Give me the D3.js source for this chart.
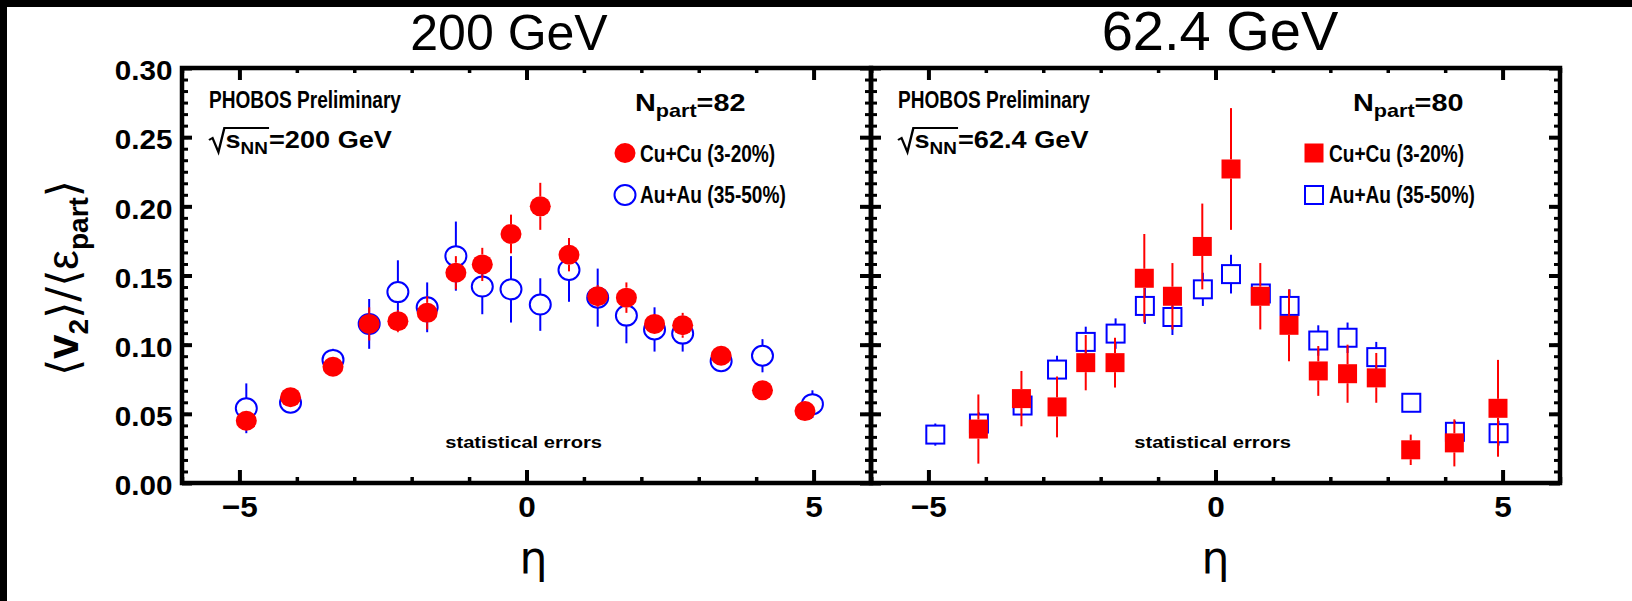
<!DOCTYPE html>
<html>
<head>
<meta charset="utf-8">
<script src="https://cdn.jsdelivr.net/npm/d3@7"></script>
<style>
  body { margin: 0; background: #fff; }
  svg { display: block; }
  text { font-family: "Liberation Sans", Arial, sans-serif; fill: #000; }
</style>
</head>
<body>
<div id="chart"></div>
<script>
// Cu+Cu 3-20%, 200 GeV (filled circles)
const etaCu200 = [-4.88, -4.11, -3.37, -2.74, -2.24, -1.73, -1.23, -0.77, -0.27, 0.24, 0.74, 1.24, 1.74, 2.23, 2.72, 3.39, 4.11, 4.85];
const v2Cu200 = [0.045, 0.062, 0.084, 0.115, 0.117, 0.123, 0.152, 0.158, 0.180, 0.200, 0.165, 0.135, 0.134, 0.115, 0.114, 0.092, 0.067, 0.052];
const errCu200 = [0.006, 0.004, 0.004, 0.012, 0.008, 0.012, 0.012, 0.012, 0.014, 0.017, 0.012, 0.008, 0.011, 0.007, 0.009, 0.005, 0.006, 0.006];

// Au+Au 35-50%, 200 GeV (open circles)
const etaAu200 = [-4.88, -4.11, -3.37, -2.74, -2.24, -1.73, -1.23, -0.77, -0.27, 0.24, 0.74, 1.24, 1.74, 2.23, 2.72, 3.39, 4.11, 4.98];
const v2Au200 = [0.054, 0.058, 0.089, 0.115, 0.138, 0.127, 0.164, 0.142, 0.140, 0.129, 0.154, 0.134, 0.121, 0.111, 0.108, 0.088, 0.092, 0.057];
const errAu200 = [0.018, 0.005, 0.008, 0.018, 0.023, 0.018, 0.025, 0.020, 0.024, 0.019, 0.023, 0.021, 0.020, 0.016, 0.013, 0.006, 0.012, 0.010];

// Cu+Cu 3-20%, 62.4 GeV (filled squares)
const etaCu62 = [-4.13, -3.38, -2.76, -2.26, -1.75, -1.24, -0.75, -0.23, 0.27, 0.78, 1.28, 1.79, 2.30, 2.80, 3.40, 4.16, 4.92];
const v2Cu62 = [0.039, 0.061, 0.055, 0.087, 0.087, 0.148, 0.135, 0.171, 0.227, 0.135, 0.114, 0.081, 0.079, 0.076, 0.024, 0.029, 0.054];
const errCu62 = [0.025, 0.020, 0.022, 0.020, 0.018, 0.032, 0.024, 0.031, 0.044, 0.024, 0.026, 0.018, 0.021, 0.018, 0.011, 0.017, 0.035];

// Au+Au 35-50%, 62.4 GeV (open squares)
const etaAu62 = [-4.88, -4.12, -3.36, -2.76, -2.26, -1.74, -1.23, -0.75, -0.22, 0.27, 0.79, 1.29, 1.79, 2.30, 2.80, 3.41, 4.17, 4.93];
const v2Au62 = [0.035, 0.043, 0.056, 0.082, 0.102, 0.108, 0.128, 0.120, 0.140, 0.151, 0.137, 0.128, 0.103, 0.105, 0.091, 0.058, 0.037, 0.036];
const errAu62 = [0.008, 0.008, 0.007, 0.010, 0.011, 0.011, 0.013, 0.013, 0.012, 0.014, 0.007, 0.012, 0.011, 0.011, 0.011, 0.003, 0.008, 0.009];

// ticks and labels
const xMajorTicks = [-5, 0, 5];
const xMinorTicks = [-6, -4, -3, -2, -1, 1, 2, 3, 4, 6];
const yMajorTicks = [0, 0.05, 0.10, 0.15, 0.20, 0.25, 0.30];
const panelTitles = ["200 GeV", "62.4 GeV"];
const energyLabels = ["=200 GeV", "=62.4 GeV"];
const nPartValues = [82, 80];
const legendLabels = ["Cu+Cu (3-20%)", "Au+Au (35-50%)"];

const W = 1632, H = 601;

const svg = d3.select("#chart").append("svg")
    .attr("width", W)
    .attr("height", H);

svg.append("rect").attr("width", W).attr("height", H).attr("fill", "#fff");
// black edges of the screenshot
svg.append("rect").attr("x", 0).attr("y", 0).attr("width", W).attr("height", 7).attr("fill", "#000");
svg.append("rect").attr("x", 0).attr("y", 0).attr("width", 7).attr("height", H).attr("fill", "#000");

const panels = [
    { x0: 182, x1: 871, marker: "circle", titleX: 509, titleSize: 50, nPartX: 635, etaShift: 7,
      cu: { eta: etaCu200, v: v2Cu200, err: errCu200 },
      au: { eta: etaAu200, v: v2Au200, err: errAu200 } },
    { x0: 871, x1: 1560, marker: "square", titleX: 1220, titleSize: 56, nPartX: 1353, etaShift: 0,
      cu: { eta: etaCu62, v: v2Cu62, err: errCu62 },
      au: { eta: etaAu62, v: v2Au62, err: errAu62 } }
];

const y = d3.scaleLinear().domain([0, 0.30]).range([483, 68]);
const yMinorTicks = d3.range(0, 0.3001, 0.05 / 6);

// bold text, squeezed or stretched sideways
function stretched(g, x, yy, size, sx, anchor) {
    return g.append("text")
        .attr("transform", `translate(${x},${yy}) scale(${sx},1)`)
        .attr("text-anchor", anchor || "start")
        .style("font-size", size + "px")
        .style("font-weight", "bold");
}

function drawMarker(g, kind, cx, cy, filled, color) {
    if (kind === "circle") {
        g.append("ellipse")
            .attr("cx", cx).attr("cy", cy)
            .attr("rx", 10.5).attr("ry", 10)
            .attr("fill", filled ? color : "none")
            .attr("stroke", color)
            .attr("stroke-width", filled ? 0 : 2);
    } else {
        const s = filled ? 19 : 18;
        g.append("rect")
            .attr("x", cx - s / 2).attr("y", cy - s / 2)
            .attr("width", s).attr("height", s)
            .attr("fill", filled ? color : "none")
            .attr("stroke", color)
            .attr("stroke-width", filled ? 0 : 2);
    }
}

function drawSeries(g, x, kind, series, filled, color) {
    const pts = series.eta.map((e, i) => ({ eta: e, v: series.v[i], err: series.err[i] }));
    const half = kind === "circle" ? 10 : 9.5;
    pts.forEach(d => {
        const cx = x(d.eta), cy = y(d.v);
        const top = y(d.v + d.err), bot = y(d.v - d.err);
        if (cy - half > top) {
            g.append("line").attr("x1", cx).attr("x2", cx).attr("y1", top).attr("y2", cy - half)
                .attr("stroke", color).attr("stroke-width", 2);
        }
        if (bot > cy + half) {
            g.append("line").attr("x1", cx).attr("x2", cx).attr("y1", cy + half).attr("y2", bot)
                .attr("stroke", color).attr("stroke-width", 2);
        }
        drawMarker(g, kind, cx, cy, filled, color);
    });
}

function styleAxis(sel, width) {
    sel.select(".domain").remove();
    sel.selectAll(".tick line").attr("stroke", "#000").attr("stroke-width", width);
}

panels.forEach((p, idx) => {
    const x = d3.scaleLinear().domain([-6, 6]).range([p.x0, p.x1]);
    const g = svg.append("g");

    // data: Au+Au first, Cu+Cu drawn on top
    drawSeries(g, x, p.marker, p.au, false, "#0000ff");
    drawSeries(g, x, p.marker, p.cu, true, "#ff0000");

    // bottom axis
    const bottomMajor = g.append("g").attr("transform", `translate(0,${y(0)})`)
        .call(d3.axisBottom(x).tickValues(xMajorTicks).tickSize(-13).tickPadding(13).tickFormat(d3.format("d")));
    styleAxis(bottomMajor, 4);
    bottomMajor.selectAll(".tick text")
        .attr("transform", "scale(1.05,1)")
        .style("font-size", "30px").style("font-weight", "bold")
        .style("font-family", "'Liberation Sans', Arial, sans-serif");
    const bottomMinor = g.append("g").attr("transform", `translate(0,${y(0)})`)
        .call(d3.axisBottom(x).tickValues(xMinorTicks).tickSize(-6).tickFormat(""));
    styleAxis(bottomMinor, 3.5);

    // top axis
    const topMajor = g.append("g").attr("transform", `translate(0,${y(0.30)})`)
        .call(d3.axisTop(x).tickValues(xMajorTicks).tickSize(-12).tickFormat(""));
    styleAxis(topMajor, 4);
    const topMinor = g.append("g").attr("transform", `translate(0,${y(0.30)})`)
        .call(d3.axisTop(x).tickValues(xMinorTicks).tickSize(-5).tickFormat(""));
    styleAxis(topMinor, 3.5);

    // left axis
    const leftMajor = g.append("g").attr("transform", `translate(${p.x0},0)`)
        .call(d3.axisLeft(y).tickValues(yMajorTicks).tickSize(-10).tickPadding(9)
            .tickFormat(idx === 0 ? d3.format(".2f") : ""));
    styleAxis(leftMajor, 4);
    leftMajor.selectAll(".tick text")
        .attr("dy", "0.42em")
        .attr("transform", "scale(1.06,1)")
        .style("font-size", "28px").style("font-weight", "bold")
        .style("font-family", "'Liberation Sans', Arial, sans-serif");
    const leftMinor = g.append("g").attr("transform", `translate(${p.x0},0)`)
        .call(d3.axisLeft(y).tickValues(yMinorTicks).tickSize(-6).tickFormat(""));
    styleAxis(leftMinor, 3);

    // right axis
    const rightMajor = g.append("g").attr("transform", `translate(${p.x1},0)`)
        .call(d3.axisRight(y).tickValues(yMajorTicks).tickSize(-11).tickFormat(""));
    styleAxis(rightMajor, 4);
    const rightMinor = g.append("g").attr("transform", `translate(${p.x1},0)`)
        .call(d3.axisRight(y).tickValues(yMinorTicks).tickSize(-6).tickFormat(""));
    styleAxis(rightMinor, 3);

    // frame
    g.append("rect")
        .attr("x", p.x0).attr("y", y(0.30))
        .attr("width", p.x1 - p.x0).attr("height", y(0) - y(0.30))
        .attr("fill", "none").attr("stroke", "#000").attr("stroke-width", 4.5);

    // panel title above the frame
    svg.append("text")
        .attr("x", p.titleX).attr("y", 50)
        .attr("text-anchor", "middle")
        .style("font-size", p.titleSize + "px")
        .text(panelTitles[idx]);

    // eta axis label
    svg.append("text")
        .attr("x", x(0) + p.etaShift).attr("y", 573)
        .attr("text-anchor", "middle")
        .style("font-size", "44px")
        .style("font-family", "'DejaVu Sans', sans-serif")
        .text("η");

    // PHOBOS label
    stretched(g, p.x0 + 27, 108, 23, 0.83).text("PHOBOS Preliminary");

    // sqrt(s_NN) label
    const sq = g.append("g").attr("transform", `translate(${p.x0 + 27},148) scale(1.18,1)`);
    const sText = sq.append("text").attr("x", 14)
        .style("font-size", "23px").style("font-weight", "bold");
    sText.append("tspan").text("s");
    sText.append("tspan").attr("dy", 6).style("font-size", "16px").text("NN");
    const sw = sText.node().getBBox().width;
    sq.append("path")
        .attr("d", `M0,-8 L3,-10 L8,4 L13,-20 H${14 + sw + 1}`)
        .attr("fill", "none").attr("stroke", "#000").attr("stroke-width", 2);
    sq.append("text").attr("x", 14 + sw + 1)
        .style("font-size", "23px").style("font-weight", "bold")
        .text(energyLabels[idx]);

    // N_part label
    const np = stretched(g, p.nPartX, 111, 24, 1.2);
    np.append("tspan").text("N");
    np.append("tspan").attr("dy", 6).style("font-size", "18px").text("part");
    np.append("tspan").attr("dy", -6).text("=" + nPartValues[idx]);

    // legend
    drawMarker(g, p.marker, p.x0 + 443, 153, true, "#ff0000");
    drawMarker(g, p.marker, p.x0 + 443, 195, false, "#0000ff");
    stretched(g, p.x0 + 458, 162, 23, 0.83).text(legendLabels[0]);
    stretched(g, p.x0 + 458, 203, 23, 0.83).text(legendLabels[1]);

    // statistical errors note
    stretched(g, x(-0.05), 448, 16, 1.26, "middle").text("statistical errors");
});

// y axis title
const yt = svg.append("text")
    .attr("transform", "translate(78,278) rotate(-90)")
    .attr("text-anchor", "middle")
    .style("font-size", "44px");
yt.append("tspan").style("font-family", "'DejaVu Sans', sans-serif").text("⟨");
yt.append("tspan").style("font-weight", "bold").text("v");
yt.append("tspan").attr("dy", 10).style("font-size", "28px").style("font-weight", "bold").text("2");
yt.append("tspan").attr("dy", -10).style("font-family", "'DejaVu Sans', sans-serif").text("⟩/⟨");
yt.append("tspan").text("ε");
yt.append("tspan").attr("dy", 10).style("font-size", "28px").style("font-weight", "bold").text("part");
yt.append("tspan").attr("dy", -10).style("font-family", "'DejaVu Sans', sans-serif").text("⟩");
</script>
</body>
</html>
